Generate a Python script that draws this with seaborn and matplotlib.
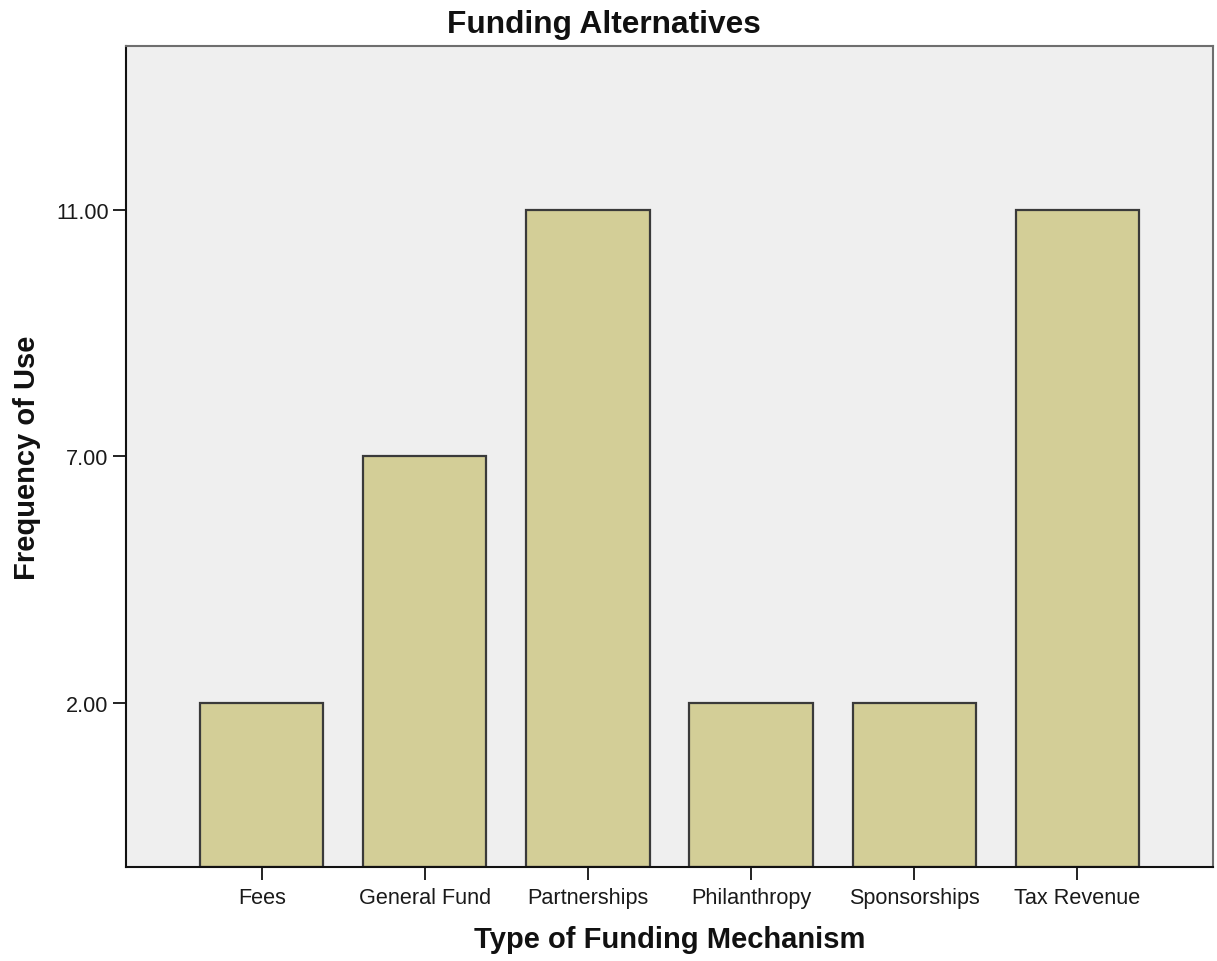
import numpy as np
import pandas as pd
import matplotlib
matplotlib.use("Agg")
import matplotlib.pyplot as plt
import seaborn as sns

# Funding mechanisms and how often each is used
mechanisms = ["Fees", "General Fund", "Partnerships", "Philanthropy",
              "Sponsorships", "Tax Revenue"]
frequency = [2, 7, 11, 2, 2, 11]
y_ticks = [2, 7, 11]
y_tick_labels = ["2.00", "7.00", "11.00"]

df = pd.DataFrame({"mechanism": mechanisms, "frequency": frequency})

sns.set_theme(style="white")
plt.rcParams["font.family"] = ["Liberation Sans", "DejaVu Sans"]

# The frequency axis spaces its distinct values evenly (ordinal spacing)
knots_v = [-100, 0, 2, 7, 11, 100]
knots_p = [-100 / 3, 0, 2 / 3, 5 / 3, 8 / 3, 8 / 3 + 89 / 4]


def forward(v):
    return np.interp(v, knots_v, knots_p)


def inverse(p):
    return np.interp(p, knots_p, knots_v)


W, H = 1217, 962
fig = plt.figure(figsize=(W / 100, H / 100), dpi=100)
ax = fig.add_axes([126 / W, 1 - 868 / H, (1213 - 126) / W, (868 - 47) / H])
ax.set_yscale("function", functions=(forward, inverse))
ax.set_facecolor("#EFEFEF")

sns.barplot(data=df, x="mechanism", y="frequency", ax=ax, color="#D3CE97",
            saturation=1, width=0.755, edgecolor="#3A3A3A", linewidth=1.6)

ax.set_xlim(-0.832, len(mechanisms) - 1 + 0.832)
ax.set_ylim(0, 11 + (2 / 3) * 4)
ax.set_yticks(y_ticks)
ax.set_yticklabels(y_tick_labels)
ax.yaxis.set_minor_locator(matplotlib.ticker.NullLocator())

ax.tick_params(axis="both", which="major", length=9.5, width=1.4,
               color="#222222", labelsize=15.6, labelcolor="#1A1A1A", pad=3,
               bottom=True, left=True)
ax.tick_params(axis="x", pad=5)

for side in ["left", "bottom"]:
    ax.spines[side].set_color("#111111")
    ax.spines[side].set_linewidth(1.5)
for side in ["top", "right"]:
    ax.spines[side].set_color("#6E6E6E")
    ax.spines[side].set_linewidth(1.5)

ax.set_xlabel("Type of Funding Mechanism", fontsize=21, fontweight="bold",
              color="#111111", labelpad=12)
ax.set_ylabel("Frequency of Use", fontsize=21, fontweight="bold",
              color="#111111", labelpad=11)

# Title centred on the whole figure
fig.text(603.5 / W, 1 - 33 / H, "Funding Alternatives", fontsize=22.8,
         fontweight="bold", color="#111111", ha="center", va="baseline")

fig.savefig("out.png", dpi=100, facecolor="white")
